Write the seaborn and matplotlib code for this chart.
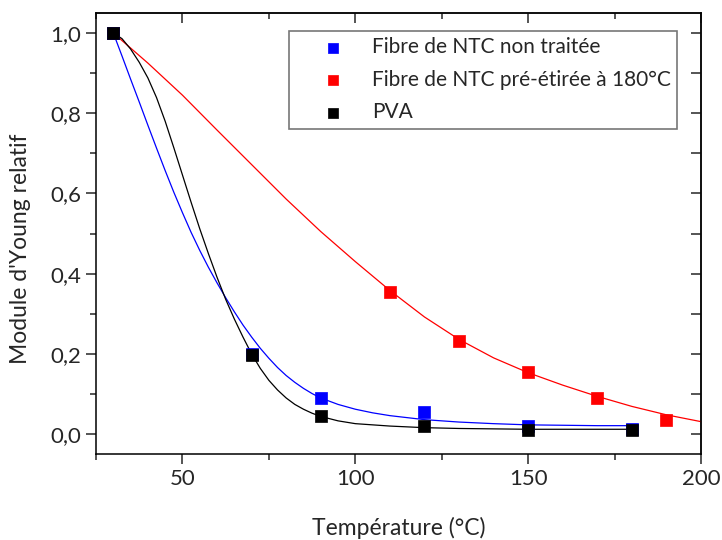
import pandas as pd
import matplotlib
matplotlib.use("Agg")
import matplotlib.pyplot as plt
import seaborn as sns
from matplotlib.ticker import MultipleLocator, FuncFormatter

# measured points
temp_blue = [30, 70, 90, 120, 150, 180]
mod_blue = [1.0, 0.2, 0.09, 0.055, 0.02, 0.013]
temp_red = [30, 110, 130, 150, 170, 190]
mod_red = [1.0, 0.355, 0.231, 0.155, 0.09, 0.034]
temp_pva = [30, 70, 90, 120, 150, 180]
mod_pva = [1.0, 0.197, 0.044, 0.019, 0.011, 0.011]

# fitted curves
fit_x_blue = [30, 32.5, 35, 37.5, 40, 42.5, 45, 47.5, 50, 52.5, 55, 57.5, 60, 62.5, 65, 67.5,
              70, 72.5, 75, 77.5, 80, 82.5, 85, 87.5, 90, 95, 100, 105, 110, 120, 130, 140,
              150, 160, 170, 180]
fit_y_blue = [1.000, 0.943, 0.885, 0.828, 0.770, 0.713, 0.657, 0.603, 0.552, 0.503, 0.458,
              0.416, 0.377, 0.340, 0.305, 0.272, 0.242, 0.214, 0.189, 0.166, 0.146, 0.129,
              0.114, 0.101, 0.090, 0.074, 0.062, 0.053, 0.046, 0.036, 0.030, 0.026, 0.023,
              0.022, 0.021, 0.021]
fit_x_red = [30, 40, 50, 60, 70, 80, 90, 100, 110, 120, 130, 140, 150, 160, 170, 180, 190, 200]
fit_y_red = [1.0, 0.925, 0.845, 0.758, 0.672, 0.586, 0.505, 0.430, 0.358, 0.292, 0.236, 0.190,
             0.153, 0.122, 0.094, 0.069, 0.048, 0.031]
fit_x_pva = [30, 32.5, 35, 37.5, 40, 42.5, 45, 47.5, 50, 52.5, 55, 57.5, 60, 62.5, 65, 67.5,
             70, 72.5, 75, 77.5, 80, 82.5, 85, 87.5, 90, 95, 100, 110, 120, 130, 140, 150,
             165, 180]
fit_y_pva = [1.000, 0.986, 0.960, 0.927, 0.888, 0.839, 0.780, 0.714, 0.646, 0.578, 0.512,
             0.450, 0.391, 0.336, 0.287, 0.242, 0.200, 0.164, 0.134, 0.110, 0.090, 0.074,
             0.062, 0.052, 0.044, 0.033, 0.026, 0.020, 0.016, 0.014, 0.013, 0.012, 0.012,
             0.012]

labels = ["Fibre de NTC non traitée", "Fibre de NTC pré-étirée à 180°C", "PVA"]
colors = ["#0000ff", "#ff0000", "#000000"]

sns.set_style("ticks")
plt.rcParams["font.family"] = ["Lato", "DejaVu Sans"]

fig = plt.figure(figsize=(7.22, 5.4), dpi=100)
ax = fig.add_axes([0.133, 0.159, 0.838, 0.817])

fits = [(fit_x_blue, fit_y_blue), (fit_x_red, fit_y_red), (fit_x_pva, fit_y_pva)]
pts = [(temp_blue, mod_blue), (temp_red, mod_red), (temp_pva, mod_pva)]

for (fx, fy), c in zip(fits, colors):
    sns.lineplot(x=fx, y=fy, color=c, lw=0.9, ax=ax, sort=False, zorder=2)

# red first, then blue, black on top
for i in [1, 0, 2]:
    px, py = pts[i]
    df = pd.DataFrame({"T": px, "E": py})
    sns.scatterplot(data=df, x="T", y="E", marker="s", s=70, color=colors[i],
                    edgecolor=colors[i], linewidth=0.5, ax=ax, zorder=3, label=labels[i])

ax.set_xlim(25, 200)
ax.set_ylim(-0.05, 1.05)
ax.xaxis.set_major_locator(MultipleLocator(50))
ax.xaxis.set_minor_locator(MultipleLocator(25))
ax.yaxis.set_major_locator(MultipleLocator(0.2))
ax.yaxis.set_minor_locator(MultipleLocator(0.1))
ax.yaxis.set_major_formatter(FuncFormatter(lambda v, p: f"{v:.1f}".replace(".", ",")))

ax.tick_params(which="major", length=7, width=1.1, labelsize=16, direction="out")
ax.tick_params(which="minor", length=4, width=1.1, direction="out")
for s in ax.spines.values():
    s.set_linewidth(1.1)
    s.set_color("black")

# opposite axes carry inward ticks
secx = ax.secondary_xaxis("top")
secx.xaxis.set_major_locator(MultipleLocator(50))
secx.xaxis.set_minor_locator(MultipleLocator(25))
secx.tick_params(which="major", direction="in", length=7, width=1.1, labeltop=False)
secx.tick_params(which="minor", direction="in", length=4, width=1.1)
secy = ax.secondary_yaxis("right")
secy.yaxis.set_major_locator(MultipleLocator(0.1))
secy.tick_params(which="major", direction="in", length=7, width=1.1, labelright=False)
for s in list(secx.spines.values()) + list(secy.spines.values()):
    s.set_linewidth(1.1)

ax.set_xlabel("Température (°C)", fontsize=16.5, labelpad=20)
ax.set_ylabel("Module d'Young relatif", fontsize=16.5)
ax.yaxis.set_label_coords(-0.108, 0.465)

h, l = ax.get_legend_handles_labels()
order = [l.index(x) for x in labels]
leg = ax.legend([h[k] for k in order], [l[k] for k in order], loc="upper right",
                bbox_to_anchor=(0.960, 0.959), borderaxespad=0, fontsize=15,
                fancybox=False, frameon=True, edgecolor="#555555", handletextpad=0.05,
                borderpad=0.3, labelspacing=0.6, markerscale=0.8, handlelength=3.6)
leg.get_frame().set_linewidth(1.2)

fig.savefig("out.png", dpi=100)
